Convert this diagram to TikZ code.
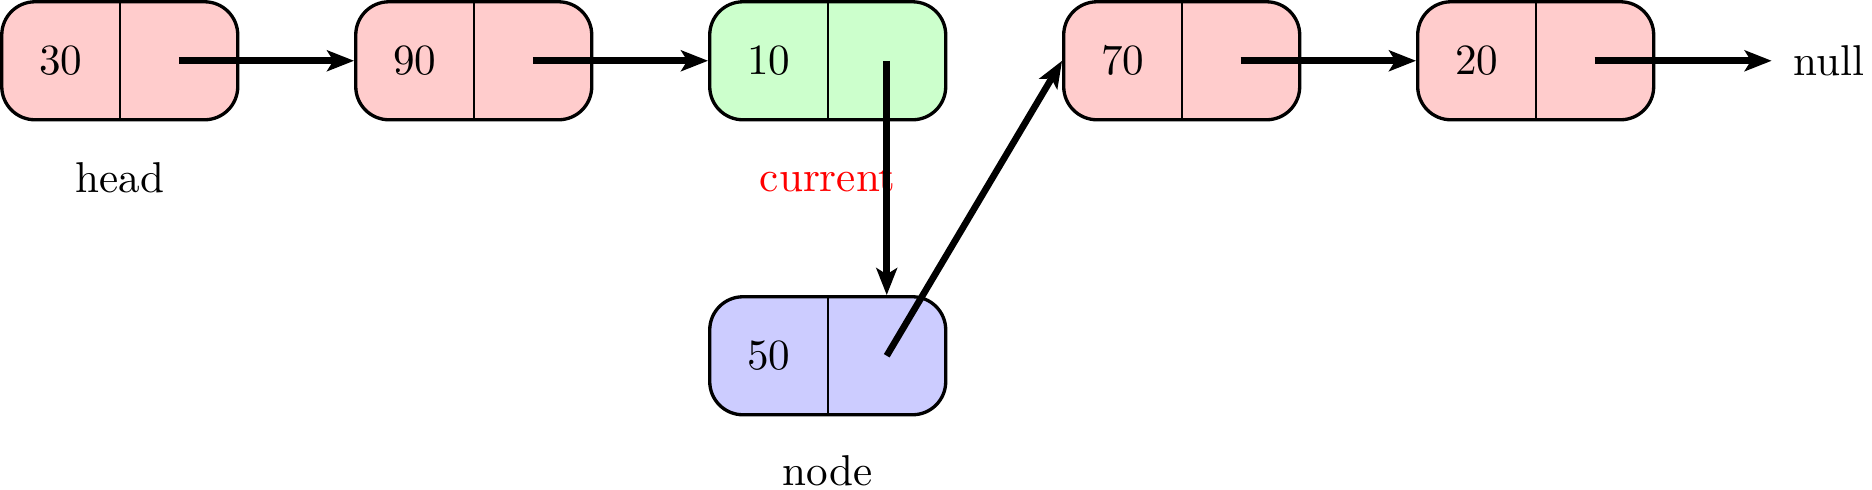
\documentclass[tikz,border=0pt]{standalone}
\usetikzlibrary{arrows.meta,calc}
\definecolor{cpink}{RGB}{255,204,204}
\definecolor{cgreen}{RGB}{204,255,204}
\definecolor{cblue}{RGB}{204,204,255}
\tikzset{
  cell/.style={draw=black, line width=0.8pt, rounded corners=8pt, minimum width=2cm, minimum height=1cm, inner sep=0pt},
  divider/.style={line width=0.4pt},
  link/.style={line width=1.6pt, -{Stealth[length=6.5pt,width=5pt,inset=1.5pt]}},
  val/.style={font=\fontsize{10.4}{12}\selectfont, inner sep=0pt},
  lbl/.style={font=\fontsize{10.4}{12}\selectfont, anchor=base, inner sep=0pt}
}
\begin{document}
\begin{tikzpicture}
\useasboundingbox (-1.015,0.515) rectangle (14.85,-3.635);
% nodes
\foreach \nm/\x/\y/\col/\v in {n1/0/0/cpink/30, n2/3/0/cpink/90, n3/6/0/cgreen/10, n4/9/0/cpink/70, n5/12/0/cpink/20, nb/6/-2.5/cblue/50}{
  \node[cell, fill=\col] (\nm) at (\x,\y) {};
  \draw[divider] (\nm.north) -- (\nm.south);
  \node[val] (\nm v) at ($(\nm.center)+(-0.5,0)$) {\v};
  \coordinate (\nm p) at ($(\nm.center)+(0.5,0)$);
}
% labels
\node[lbl] (lhead) at (0,-1.12) {head};
\node[lbl, text=red] (lcur) at (6,-1.11) {current};
\node[lbl] (lnode) at (6,-3.6) {node};
\node[font=\fontsize{10.4}{12}\selectfont, anchor=west, inner xsep=5pt, inner ysep=0pt] (null) at (14,0) {null};
% links
\draw[link] (n1p) -- (n2.west);
\draw[link] (n2p) -- (n3.west);
\draw[link] (n3p) -- (n3p |- nb.north);
\draw[link] (nbp) -- (n4.west);
\draw[link] (n4p) -- (n5.west);
\draw[link] (n5p) -- (null.west);
\end{tikzpicture}
\end{document}
